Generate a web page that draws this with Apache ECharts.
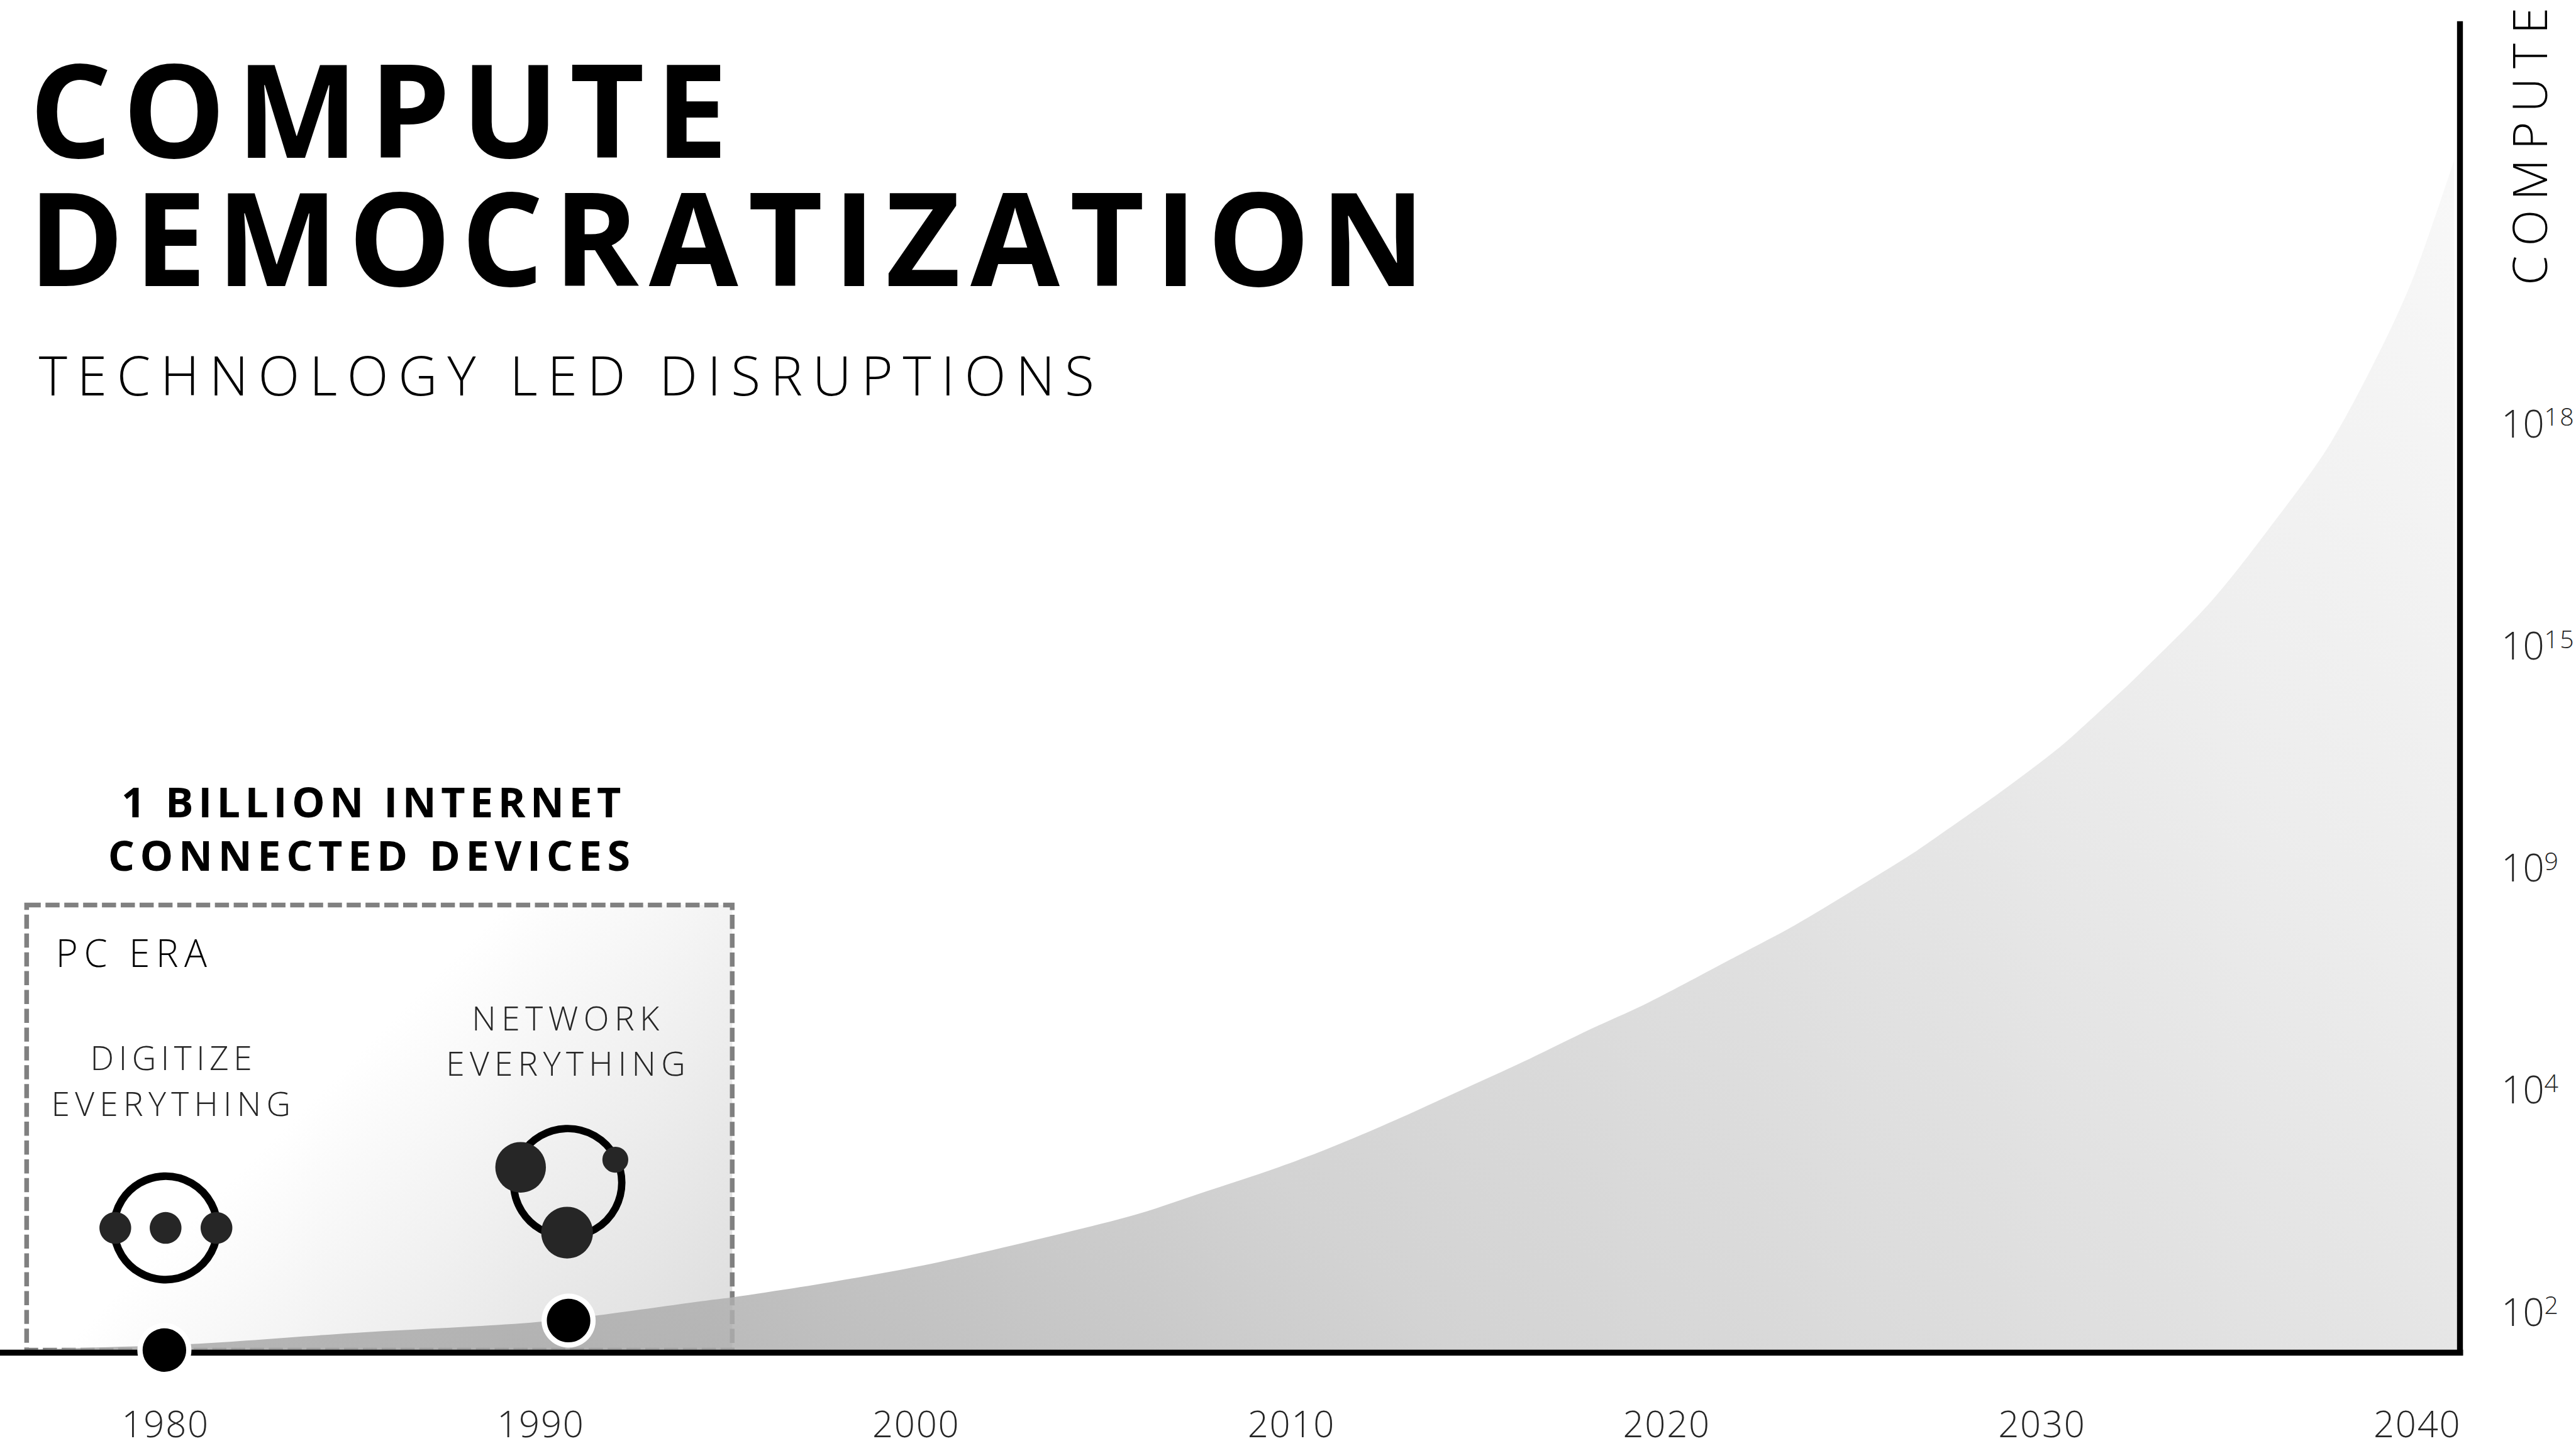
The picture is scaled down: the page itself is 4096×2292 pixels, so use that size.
<!DOCTYPE html>
<html>
<head>
<meta charset="utf-8">
<style>html,body{margin:0;padding:0;background:#fff}#chart{width:4096px;height:2292px}</style>
<script src="https://cdn.jsdelivr.net/npm/echarts@6/dist/echarts.min.js"></script>
</head>
<body>
<div id="chart"></div>
<script>
// Compute growth curve: x is the calendar year, y is the position on the stepped compute scale
var curveYears = [1975.59,1977.16,1980.69,1985.0,1990.16,1994.41,1995.13,1997.76,2000.41,2003.41,2005.93,2007.74,2009.30,2010.87,2012.44,2014.79,2016.36,2017.93,2019.50,2021.85,2023.41,2024.98,2026.55,2027.34,2028.90,2030.47,2031.72,2032.55,2034.53,2036.33,2037.68,2039.03,2039.94,2040.98];
var curveLevels = [-0.18,-0.169,-0.148,-0.098,-0.045,0.048,0.063,0.132,0.214,0.331,0.439,0.54,0.627,0.725,0.836,1.016,1.138,1.267,1.389,1.598,1.738,1.897,2.061,2.153,2.339,2.54,2.73,2.862,3.201,3.587,3.907,4.333,4.675,5.183];
// Right-hand edge of the filled region, slightly slanted toward the axis foot
var edgeYears = [2040.98,2041.10];
var edgeLevels = [5.183,-0.1852];
var yearTicks = [1980,1990,2000,2010,2020,2030,2040];
var computeExponents = ['2','4','9','15','18'];
var milestoneYears = [1979.97,1990.74];
var milestoneLevels = [-0.175,-0.042];
var eraYears = [1976.3,1995.1];
var eraLevels = [-0.175,1.829];

var S = 4096 / 4379;
var FONT = '"Open Sans", "Noto Sans", sans-serif';

// Tracking per string, in em; ECharts has no letter-spacing option so it goes on the SVG text nodes
var tracking = {
  'COMPUTE': 0.083, 'DEMOCRATIZATION': 0.0765, 'TECHNOLOGY LED DISRUPTIONS': 0.183,
  '1 BILLION INTERNET': 0.112, 'CONNECTED DEVICES': 0.13, 'PC ERA': 0.16,
  'DIGITIZE': 0.141, 'NETWORK': 0.16, 'EVERYTHING': 0.155,
  '1980': 0.03, '1990': 0.03, '2000': 0.03, '2010': 0.03, '2020': 0.03, '2030': 0.03, '2040': 0.03,
  '15': 0.06, '18': 0.06
};
var axisTitleTracking = 0.2;

function label(text, x, y, size, weight, color, align, rotation) {
  return {
    type: 'text', z: 50, silent: true,
    x: x * S, y: y * S, rotation: rotation || 0,
    style: {
      text: text, x: 0, y: 0, fill: color,
      font: weight + ' ' + (size * S) + 'px ' + FONT,
      lineHeight: size * S * 0.85,
      textAlign: align || 'left', textVerticalAlign: 'middle'
    }
  };
}
function dot(x, y, r) {
  return { type: 'circle', z: 40, silent: true, shape: { cx: x * S, cy: y * S, r: r * S }, style: { fill: '#262626' } };
}
function ring(x, y, r, w) {
  return { type: 'circle', z: 39, silent: true, shape: { cx: x * S, cy: y * S, r: r * S }, style: { fill: 'none', stroke: '#000', lineWidth: w * S } };
}

// Diagonal fill that lightens toward the upper right of the canvas
var areaFill = new echarts.graphic.LinearGradient(0, 1400 * S, 2650 * S, -1250 * S, [
  { offset: 0, color: '#a8a8a8' },
  { offset: 0.06, color: '#adadad' },
  { offset: 0.296, color: '#cacaca' },
  { offset: 0.547, color: '#dbdbdb' },
  { offset: 0.733, color: '#e9e9e9' },
  { offset: 1, color: '#f7f7f7' }
], true);
// Era panel fill, white at the top left and grey toward the lower right
var eraFill = new echarts.graphic.LinearGradient(1200 * S, 1200 * S, 1775 * S, 1775 * S, [
  { offset: 0, color: '#ffffff' },
  { offset: 1, color: '#dcdcdc' }
], true);

var option = {
  animation: false,
  backgroundColor: '#ffffff',
  grid: { left: 0, right: (4379 - 4182) * S, top: 41 * S, bottom: (2450 - 2302) * S, containLabel: false },
  xAxis: {
    type: 'value', min: 1975.59, max: 2041.14, z: 10,
    splitLine: { show: false },
    axisTick: { show: false },
    axisLine: { show: true, onZero: false, lineStyle: { color: '#000', width: 10 * S, cap: 'square' } },
    axisLabel: {
      customValues: yearTicks, formatter: function (v) { return String(v); },
      color: '#262626', fontFamily: FONT, fontWeight: 300, fontSize: 62 * S, lineHeight: 44, margin: 90,
      hideOverlap: false, showMinLabel: true, showMaxLabel: true
    }
  },
  yAxis: {
    type: 'value', position: 'right', min: -0.1852, max: 5.796, z: 10,
    splitLine: { show: false },
    axisTick: { show: false },
    axisLine: { show: true, onZero: false, lineStyle: { color: '#000', width: 10 * S, cap: 'square' } },
    axisLabel: {
      customValues: [0, 1, 2, 3, 4],
      formatter: function (v) { return '{b|10}{s|' + computeExponents[v] + '}'; },
      margin: 70 * S,
      rich: {
        b: { color: '#262626', fontFamily: FONT, fontWeight: 300, fontSize: 64 * S },
        s: { color: '#262626', fontFamily: FONT, fontWeight: 300, fontSize: 42 * S, padding: [0, 0, 22 * S, 0] }
      }
    }
  },
  series: [
    {
      type: 'custom', z: 1, silent: true, coordinateSystem: 'cartesian2d', clip: false,
      data: [[eraYears[0], eraLevels[0], eraYears[1], eraLevels[1]]],
      encode: { x: [0, 2], y: [1, 3] },
      renderItem: function (params, api) {
        var a = api.coord([api.value(0), api.value(1)]);
        var b = api.coord([api.value(2), api.value(3)]);
        return {
          type: 'rect',
          shape: { x: a[0], y: b[1], width: b[0] - a[0], height: a[1] - b[1] },
          style: { fill: eraFill, stroke: '#808080', lineWidth: 8 * S, lineDash: [24 * S, 8 * S] }
        };
      }
    },
    {
      type: 'line', z: 2, silent: true, symbol: 'none', smooth: 0.3, clip: true,
      data: curveYears.map(function (y, i) { return [y, curveLevels[i]]; }),
      lineStyle: { width: 0 },
      areaStyle: { color: areaFill, opacity: 0.83, origin: 'start' }
    },
    {
      type: 'line', z: 2, silent: true, symbol: 'none', smooth: false, clip: true,
      data: edgeYears.map(function (y, i) { return [y, edgeLevels[i]]; }),
      lineStyle: { width: 0 },
      areaStyle: { color: areaFill, opacity: 0.83, origin: 'start' }
    },
    {
      type: 'scatter', z: 30, silent: true, symbol: 'circle', symbolSize: 83 * S, clip: false,
      data: milestoneYears.map(function (y, i) { return [y, milestoneLevels[i]]; }),
      itemStyle: { color: '#000', borderColor: '#fff', borderWidth: 9 * S, opacity: 1 }
    }
  ],
  graphic: { elements: [
    label('COMPUTE', 50, 183, 220, 700, '#000'),
    label('DEMOCRATIZATION', 48, 401, 220, 700, '#000'),
    label('TECHNOLOGY LED DISRUPTIONS', 66, 637, 92, 300, '#000'),
    label('1 BILLION INTERNET', 635, 1362, 71, 700, '#000', 'center'),
    label('CONNECTED DEVICES', 632, 1453, 71, 700, '#000', 'center'),
    label('PC ERA', 95, 1620, 64, 300, '#000'),
    label('DIGITIZE', 295, 1798, 57, 300, '#262626', 'center'),
    label('EVERYTHING', 295, 1876, 57, 300, '#262626', 'center'),
    label('NETWORK', 966, 1730, 57, 300, '#262626', 'center'),
    label('EVERYTHING', 966, 1807, 57, 300, '#262626', 'center'),
    label('COMPUTE', 4298, 485, 81, 300, '#000', 'left', Math.PI / 2),
    ring(281.5, 2088, 88, 13), dot(196, 2088, 27), dot(281.5, 2088, 27), dot(368, 2088, 27),
    ring(965, 2011, 92, 12.5), dot(885, 1985, 43), dot(964, 2096, 44), dot(1046, 1972, 22)
  ] }
};

var chart = echarts.init(document.getElementById('chart'), null, { renderer: 'svg', width: 4096, height: 2292 });
chart.setOption(option);

function applyTracking() {
  var nodes = document.querySelectorAll('#chart svg text');
  for (var i = 0; i < nodes.length; i++) {
    var n = nodes[i], t = n.textContent;
    var em = tracking[t];
    if (t === 'COMPUTE' && /^matrix\(0/.test(n.getAttribute('transform') || '')) em = axisTitleTracking;
    if (em) n.style.letterSpacing = em + 'em';
  }
}
applyTracking();
chart.on('finished', applyTracking);
requestAnimationFrame(applyTracking);
</script>
</body>
</html>
